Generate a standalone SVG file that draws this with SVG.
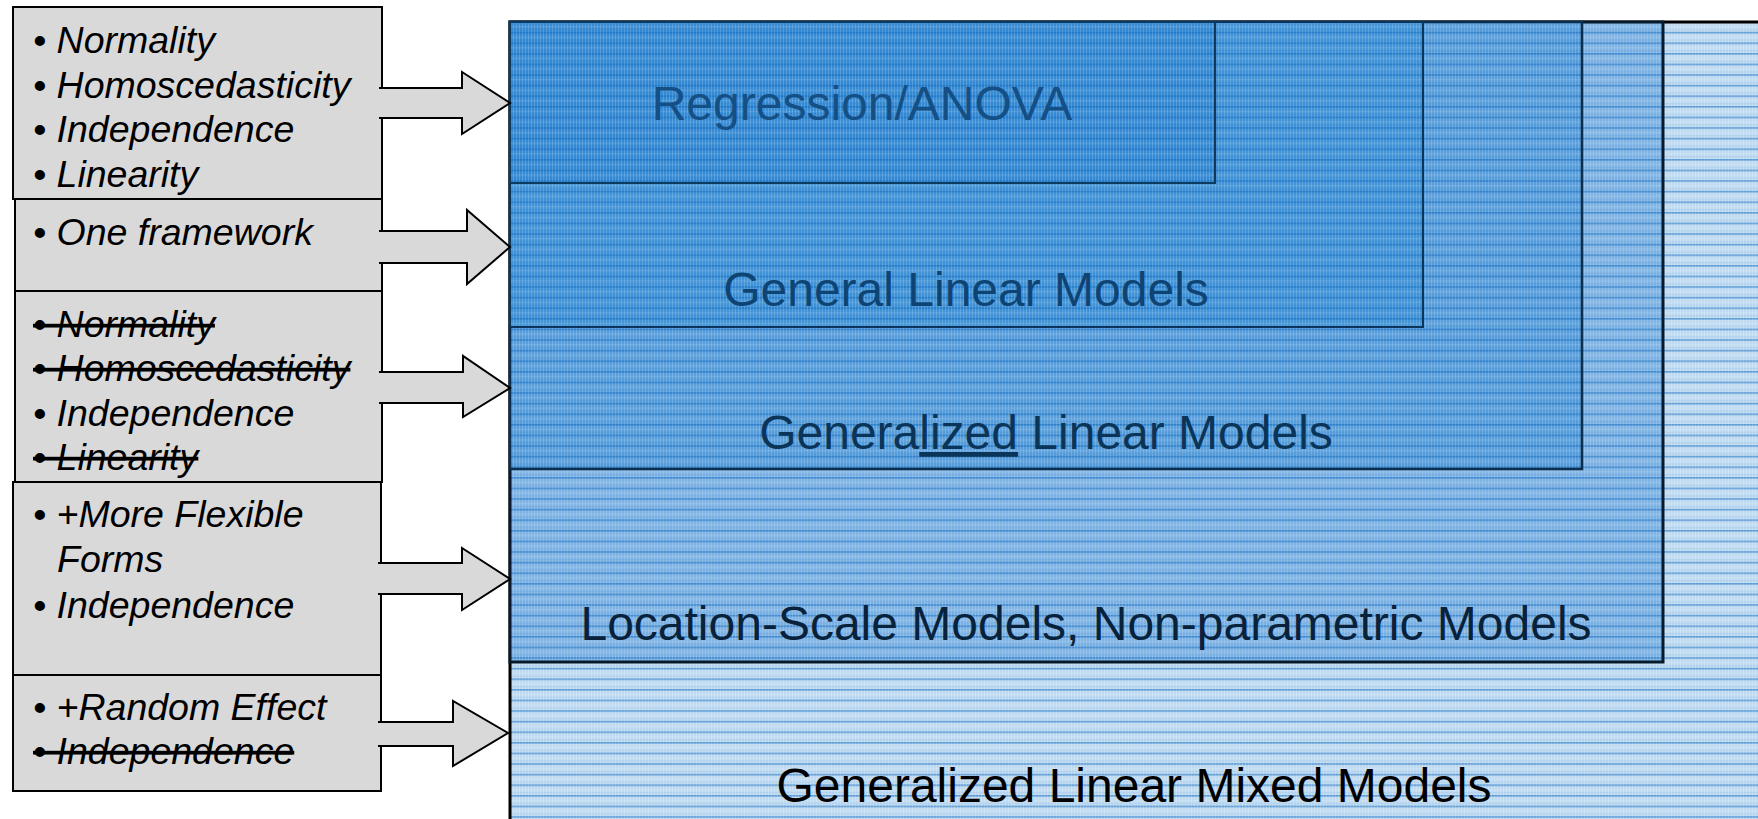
<svg xmlns="http://www.w3.org/2000/svg" width="1758" height="819" viewBox="0 0 1758 819">
<style>
.lt{font-family:"Liberation Sans",Arial,sans-serif;font-style:italic;font-size:37.5px;fill:#000}
.st{text-decoration:line-through}
.bt{font-family:"Liberation Sans",Arial,sans-serif;font-size:48px;text-anchor:middle}
.box{fill:#d9d9d9;stroke:#000;stroke-width:2}
.arr{fill:#d9d9d9;stroke:#000;stroke-width:2;stroke-linejoin:miter}
</style>
<defs>
<pattern id="tex" width="3" height="10.6" patternUnits="userSpaceOnUse">
<rect x="0" y="0" width="3" height="1.6" fill="#0a66bd" opacity="0.55"/>
<rect x="0" y="0" width="1" height="10.6" fill="#ffffff" opacity="0.16"/>
<rect x="0" y="5" width="3" height="1" fill="#ffffff" opacity="0.14"/>
<rect x="0" y="8" width="3" height="1" fill="#0a66bd" opacity="0.12"/>
</pattern>
</defs>
<rect width="1758" height="819" fill="#ffffff"/>

<g id="glmm">
<rect x="510" y="22" width="1260" height="810" fill="#c0dbf1"/>
<rect x="510" y="22" width="1260" height="810" fill="url(#tex)"/>
<rect x="510" y="22" width="1260" height="810" fill="none" stroke="#000" stroke-width="3"/>
<text class="bt" x="1134" y="802" fill="#000" font-size="49">Generalized Linear Mixed Models</text>
</g>

<g id="location-scale">
<rect x="510" y="22" width="1153" height="640" fill="#80b4e4"/>
<rect x="510" y="22" width="1153" height="640" fill="url(#tex)"/>
<rect x="510" y="22" width="1153" height="640" fill="none" stroke="#071a2c" stroke-width="3"/>
<text class="bt" x="1086" y="640" fill="#08223b">Location-Scale Models, Non-parametric Models</text>
</g>

<g id="generalized">
<rect x="510" y="22" width="1072" height="447" fill="#5a9fdb"/>
<rect x="510" y="22" width="1072" height="447" fill="url(#tex)"/>
<rect x="510" y="22" width="1072" height="447" fill="none" stroke="#0b2d4e" stroke-width="2.5"/>
<text class="bt" x="1046" y="449" fill="#0a3558">Genera<tspan text-decoration="underline">lized</tspan> Linear Models</text>
</g>

<g id="general">
<rect x="510" y="22" width="913" height="305" fill="#4394d7"/>
<rect x="510" y="22" width="913" height="305" fill="url(#tex)"/>
<rect x="510" y="22" width="913" height="305" fill="none" stroke="#0c3559" stroke-width="2"/>
<text class="bt" x="966" y="306" fill="#0e4474">General Linear Models</text>
</g>

<g id="regression">
<rect x="510" y="22" width="705" height="161" fill="#378bd3"/>
<rect x="510" y="22" width="705" height="161" fill="url(#tex)"/>
<rect x="510" y="22" width="705" height="161" fill="none" stroke="#0c3a60" stroke-width="2"/>
<text class="bt" x="862" y="120" fill="#144f85">Regression/ANOVA</text>
</g>

<g id="assump-regression">
<rect class="box" x="13" y="7" width="369" height="192"/>
<text class="lt" x="33" y="53">• Normality</text>
<text class="lt" x="33" y="98">• Homoscedasticity</text>
<text class="lt" x="33" y="142">• Independence</text>
<text class="lt" x="33" y="187">• Linearity</text>
</g>

<g id="assump-general">
<rect class="box" x="15" y="199" width="367" height="92"/>
<text class="lt" x="33" y="245">• One framework</text>
</g>

<g id="assump-generalized">
<rect class="box" x="15" y="291" width="367" height="191"/>
<text class="lt st" x="33" y="337">• Normality</text>
<text class="lt st" x="33" y="381">• Homoscedasticity</text>
<text class="lt" x="33" y="426">• Independence</text>
<text class="lt st" x="33" y="470">• Linearity</text>
</g>

<g id="assump-locscale">
<rect class="box" x="13" y="482" width="368" height="193"/>
<text class="lt" x="33" y="527">• +More Flexible</text>
<text class="lt" x="57" y="572">Forms</text>
<text class="lt" x="33" y="618">• Independence</text>
</g>

<g id="assump-glmm">
<rect class="box" x="13" y="675" width="368" height="116"/>
<text class="lt" x="33" y="720">• +Random Effect</text>
<text class="lt st" x="33" y="764">• Independence</text>
</g>

<g id="connectors">
<path class="arr" d="M379,88 H462 V72 L510,103 L462,134 V118 H379"/>
<path class="arr" d="M379,231 H467 V210 L510,247 L467,284 V263 H379"/>
<path class="arr" d="M379,372 H463 V356 L510,388 L463,417 V403 H379"/>
<path class="arr" d="M378,563 H462 V548 L510,579 L462,610 V594 H378"/>
<path class="arr" d="M378,722 H453 V701 L508,733 L453,766 V746 H378"/>
</g>
</svg>
